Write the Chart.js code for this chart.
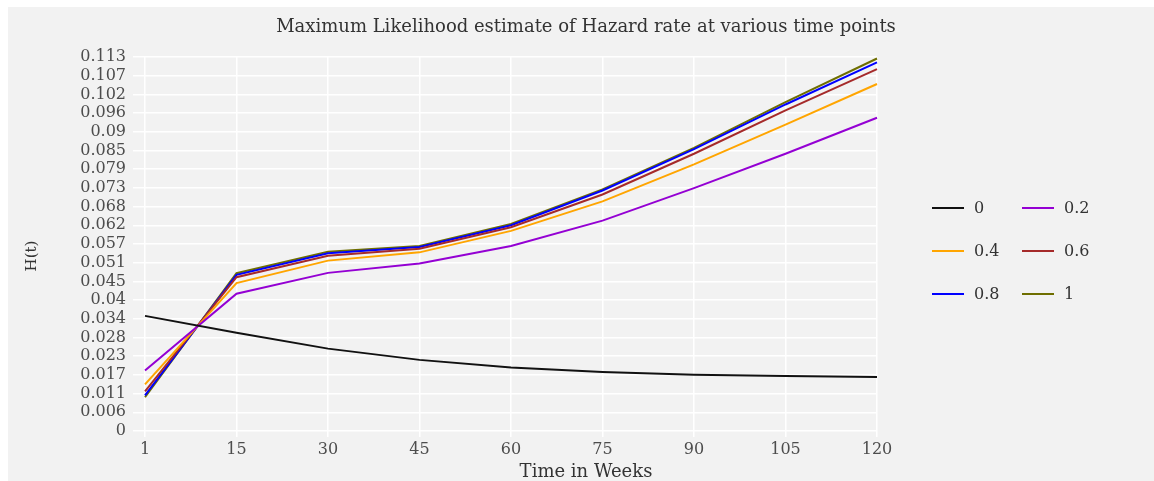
<!DOCTYPE html>
<html>
<head>
<meta charset="utf-8">
<script src="https://cdn.jsdelivr.net/npm/chart.js@4/dist/chart.umd.min.js"></script>
<style>
    html, body { margin: 0; padding: 0; background: #f2f2f2; overflow: hidden; }
    canvas { display: block; }
</style>
</head>
<body>
<canvas id="hazard" width="1154" height="481"></canvas>
<script>
// time points (weeks) and hazard estimates per group
const weeks = ['1', '15', '30', '45', '60', '75', '90', '105', '120'];
const groups = ['0', '0.2', '0.4', '0.6', '0.8', '1'];
const colours = ['#111111', '#9400d3', '#ffa500', '#a52a2a', '#0000ff', '#6e6e00'];

const h0  = [0.0348, 0.0297, 0.0249, 0.0215, 0.0192, 0.0178, 0.0170, 0.0166, 0.0163];
const h02 = [0.0183, 0.0415, 0.0478, 0.0506, 0.0559, 0.0636, 0.0734, 0.0838, 0.0947];
const h04 = [0.0141, 0.0447, 0.0515, 0.0540, 0.0605, 0.0694, 0.0806, 0.0926, 0.1049];
const h06 = [0.0120, 0.0465, 0.0530, 0.0551, 0.0616, 0.0715, 0.0838, 0.0969, 0.1094];
const h08 = [0.0108, 0.0472, 0.0537, 0.0556, 0.0622, 0.0727, 0.0852, 0.0987, 0.1114];
const h1  = [0.0102, 0.0477, 0.0542, 0.0559, 0.0626, 0.0730, 0.0856, 0.0994, 0.1126];

// y axis: 20 equal steps up to the top tick
const yTickLabels = ['0', '0.006', '0.011', '0.017', '0.023', '0.028', '0.034', '0.04', '0.045', '0.051',
    '0.057', '0.062', '0.068', '0.073', '0.079', '0.085', '0.09', '0.096', '0.102', '0.107', '0.113'];
const yTop = 0.11305;

const mainTitle = 'Maximum Likelihood estimate of Hazard rate at various time points';
const xTitle = 'Time in Weeks';
const yTitle = 'H(t)';

const serif = 'DejaVu Serif';
const series = [h0, h02, h04, h06, h08, h1];

const background = {
    id: 'background',
    beforeDraw(chart) {
        const c = chart.ctx;
        c.save();
        c.fillStyle = '#ffffff';
        c.fillRect(0, 0, chart.width, chart.height);
        c.fillStyle = '#f2f2f2';
        c.fillRect(8, 7, chart.width - 8, chart.height - 7);
        c.restore();
    }
};

// titles (centred on the whole figure) and the two-column legend
const extras = {
    id: 'extras',
    afterDraw(chart) {
        const c = chart.ctx;
        c.save();
        c.fillStyle = '#333333';
        c.textAlign = 'center';
        c.textBaseline = 'middle';
        c.font = '18px "' + serif + '"';
        c.fillText(mainTitle, 586, 27);
        c.fillText(xTitle, 586, 472);
        c.font = '15px "' + serif + '"';
        c.translate(32, 256);
        c.rotate(-Math.PI / 2);
        c.fillText(yTitle, 0, 0);
        c.restore();

        c.save();
        c.font = '16px "' + serif + '"';
        c.textBaseline = 'middle';
        c.textAlign = 'left';
        chart.data.datasets.forEach((ds, i) => {
            const x = i % 2 === 0 ? 932 : 1022;
            const y = 208 + Math.floor(i / 2) * 43;
            c.strokeStyle = ds.borderColor;
            c.lineWidth = 2;
            c.beginPath();
            c.moveTo(x, y);
            c.lineTo(x + 32, y);
            c.stroke();
            c.fillStyle = '#333333';
            c.fillText(ds.label, x + 42, y + 1);
        });
        c.restore();
    }
};

const ctx = document.getElementById('hazard').getContext('2d');
const hazardChart = new Chart(ctx, {
    type: 'line',
    data: {
        labels: weeks,
        datasets: groups.map((g, i) => ({
            label: g,
            data: series[i],
            borderColor: colours[i],
            backgroundColor: colours[i],
            borderWidth: 2,
            pointRadius: 0,
            tension: 0,
            fill: false
        }))
    },
    options: {
        responsive: false,
        animation: false,
        devicePixelRatio: 1,
        layout: {
            padding: { left: 0, right: 277, top: 57, bottom: 17 }
        },
        plugins: {
            legend: { display: false },
            tooltip: { enabled: false },
            title: { display: false }
        },
        scales: {
            x: {
                type: 'category',
                offset: false,
                grid: { color: '#ffffff', lineWidth: 1.5, tickLength: 6 },
                border: { display: false },
                ticks: {
                    color: '#4d4d4d',
                    padding: 3,
                    maxRotation: 0,
                    autoSkip: false,
                    font: { family: serif, size: 16 }
                },
                afterFit(scale) { scale.height = 33; }
            },
            y: {
                min: 0,
                max: yTop,
                grid: { color: '#ffffff', lineWidth: 1.5, tickLength: 12 },
                border: { display: false },
                afterBuildTicks(scale) {
                    scale.ticks = yTickLabels.map((t, i) => ({ value: yTop * i / (yTickLabels.length - 1) }));
                },
                ticks: {
                    color: '#4d4d4d',
                    padding: 7,
                    autoSkip: false,
                    font: { family: serif, size: 16 },
                    callback: (v, i) => yTickLabels[i]
                },
                afterFit(scale) { scale.width = 145; }
            }
        }
    },
    plugins: [background, extras]
});
</script>
</body>
</html>
